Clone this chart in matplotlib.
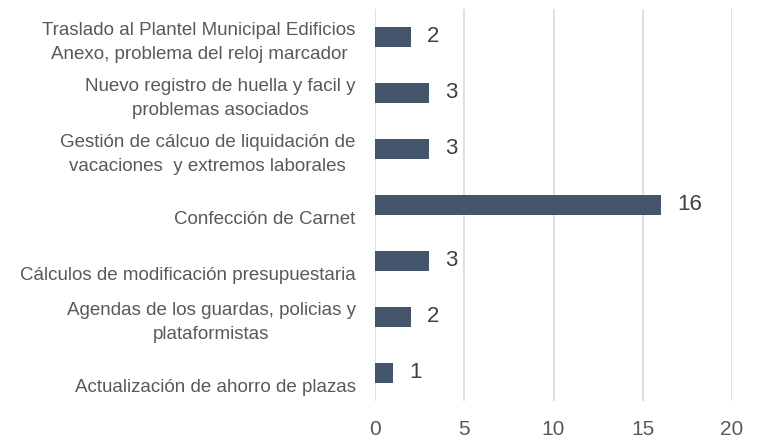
import matplotlib
matplotlib.use("Agg")
import matplotlib.pyplot as plt
import matplotlib.transforms as mtransforms
from matplotlib import font_manager

categories = [
    "Traslado al Plantel Municipal Edificios\nAnexo, problema del reloj marcador",
    "Nuevo registro de huella y facil y\nproblemas asociados",
    "Gestión de cálcuo de liquidación de\nvacaciones  y extremos laborales",
    "Confección de Carnet",
    "Cálculos de modificación presupuestaria",
    "Agendas de los guardas, policias y\nplataformistas",
    "Actualización de ahorro de plazas",
]
values = [2, 3, 3, 16, 3, 2, 1]
x_ticks = [0, 5, 10, 15, 20]

bar_color = "#44546A"
text_color = "#595959"
grid_color = "#D9D9D9"

# narrow font if there is one, else plain Liberation Sans
names = {f.name for f in font_manager.fontManager.ttflist}
if "Liberation Sans Narrow" in names:
    plt.rcParams["font.family"] = ["Liberation Sans Narrow", "DejaVu Sans"]
    cat_size, num_size = 16, 17
else:
    plt.rcParams["font.family"] = ["Liberation Sans", "DejaVu Sans"]
    cat_size, num_size = 13.5, 15

fig = plt.figure(figsize=(7.6, 4.42), dpi=100)
ax = fig.add_axes([375 / 760, 1 - 401 / 442, (732 - 375) / 760, 392 / 442])

pos = list(range(len(categories)))[::-1]
ax.barh(pos, values, height=0.35, color=bar_color, zorder=3)

for y, v in zip(pos, values):
    ax.annotate(str(v), (v, y), xytext=(12, 0), textcoords="offset points",
                va="center", ha="left", fontsize=num_size + 1, color="#404040")

ax.set_xlim(0, 20)
ax.set_ylim(-0.5, len(categories) - 0.5)
ax.set_xticks(x_ticks)
ax.set_xticklabels([str(t) for t in x_ticks], fontsize=num_size, color=text_color)
ax.set_yticks(pos)
ax.set_yticklabels(categories, fontsize=cat_size, color=text_color,
                   multialignment="center", linespacing=1.55)
ax.tick_params(axis="both", length=0)
ax.tick_params(axis="y", pad=14)
ax.tick_params(axis="x", pad=14)

# single-line labels sit a line lower, as in the original
for lab in ax.get_yticklabels():
    if "\n" not in lab.get_text():
        lab.set_transform(lab.get_transform() + mtransforms.ScaledTranslation(0, -13 / 100, fig.dpi_scale_trans))

ax.grid(axis="x", color=grid_color, linewidth=1.2, zorder=0)
for s in ax.spines.values():
    s.set_visible(False)

fig.savefig("out.png", dpi=100)
